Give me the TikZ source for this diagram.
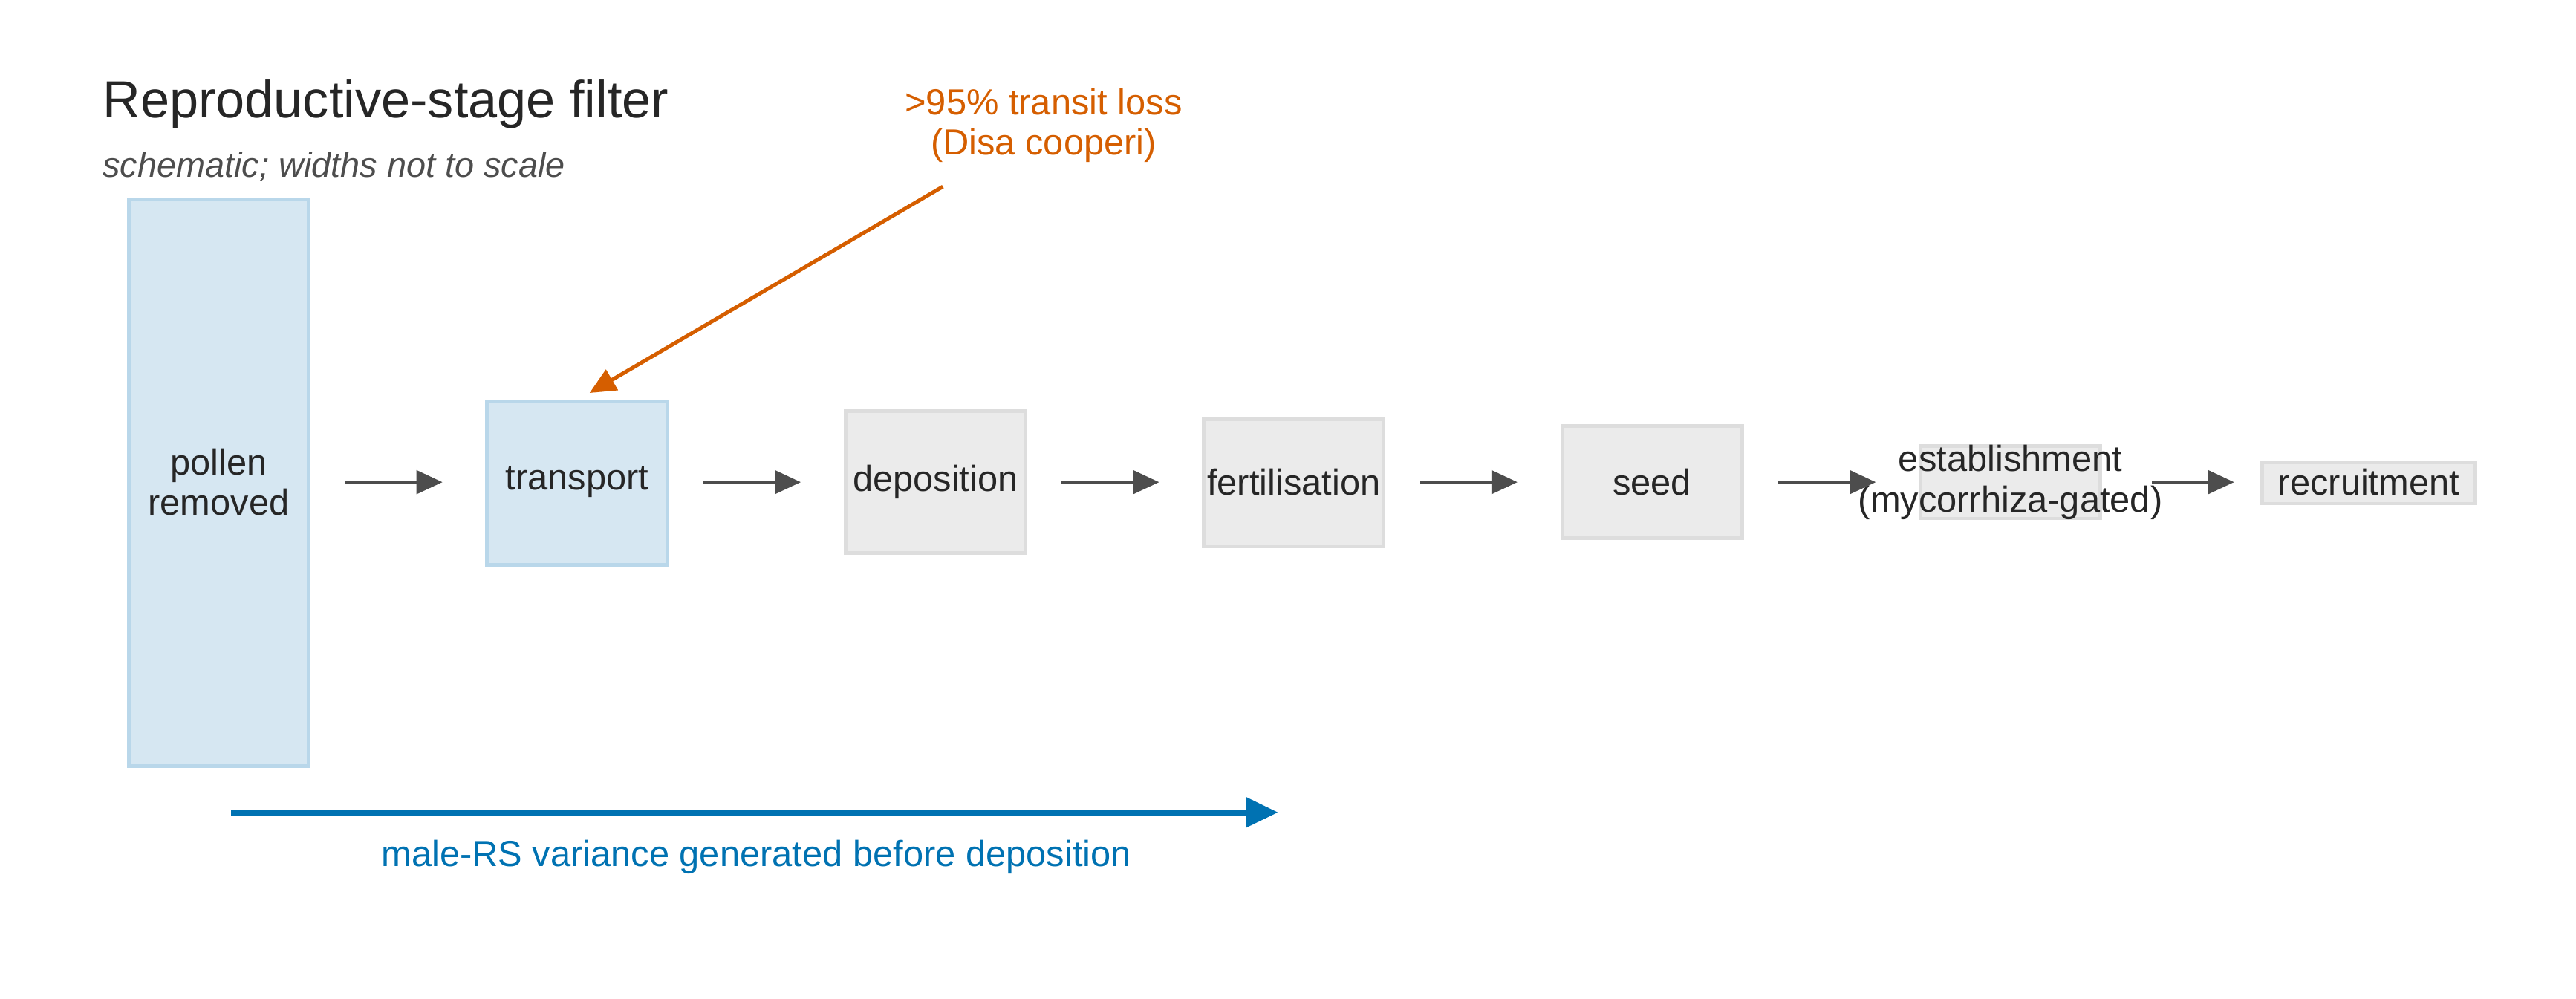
\documentclass[tikz,border=0pt]{standalone}
\usepackage{fontspec}
\setmainfont{Liberation Sans}
\usetikzlibrary{arrows.meta}
\definecolor{bfill}{HTML}{D6E7F2}
\definecolor{bdraw}{HTML}{B9D7EA}
\definecolor{gfill}{HTML}{EBEBEB}
\definecolor{gdraw}{HTML}{DDDDDD}
\definecolor{dark}{HTML}{4D4D4D}
\definecolor{orng}{HTML}{D55E00}
\definecolor{blu}{HTML}{0072B2}
\begin{document}
\begin{tikzpicture}[x=0.02cm,y=-0.02cm,
  stage/.style={draw=gdraw,fill=gfill,line width=1.2pt,inner sep=0pt},
  bstage/.style={draw=bdraw,fill=bfill,line width=1.2pt,inner sep=0pt},
  lbl/.style={font=\fontsize{12.5}{14}\selectfont,text=black!85,align=center},
  flow/.style={draw=dark,line width=1.3pt,-{Triangle[length=9pt,width=8pt]}}]
\useasboundingbox (0,0) rectangle (1560,605);
\node[anchor=west,font=\fontsize{18}{20}\selectfont,text=black!85] (title) at (56,63) {Reproductive-stage filter};
\node[anchor=west,font=\fontsize{12}{14}\selectfont\itshape,text=dark] (sub) at (56,101) {schematic; widths not to scale};
\path[bstage] (78,121) rectangle (187,464);
\node[lbl] (pollen) at (132.5,292) {pollen\\removed};
\path[bstage] (295,243) rectangle (404,342);
\node[lbl] (transport) at (349.5,292) {transport};
\path[stage] (512,249) rectangle (621,335);
\node[lbl] (deposition) at (566.5,292) {deposition};
\path[stage] (729,254) rectangle (838,331);
\node[lbl] (fert) at (783.5,292) {fertilisation};
\path[stage] (946,258) rectangle (1055,326);
\node[lbl] (seed) at (1000.5,292) {seed};
\path[stage] (1163,270) rectangle (1272,314);
\node[lbl,inner sep=0pt] (estab) at (1217.5,292) {establishment\\(mycorrhiza-gated)};
\path[stage] (1370,280) rectangle (1499,305);
\node[lbl] (recruit) at (1434.5,292) {recruitment};
\coordinate (a1) at (209,292); \coordinate (b1) at (268,292);
\coordinate (a2) at (426,292); \coordinate (b2) at (485,292);
\coordinate (a3) at (643,292); \coordinate (b3) at (702,292);
\coordinate (a4) at (860,292); \coordinate (b4) at (919,292);
\coordinate (a5) at (1077,292); \coordinate (b5) at (1136,292);
\coordinate (a6) at (1303,292); \coordinate (b6) at (1353,292);
\foreach \i in {1,...,6} \draw[flow] (a\i) -- (b\i);
\node[lbl,text=orng] (note) at (632,76) {>95\% transit loss\\(Disa cooperi)};
\coordinate (ns) at (571,113); \coordinate (ne) at (357,238);
\draw[orng,line width=1.3pt,-{Triangle[length=9pt,width=8pt]}] (ns) -- (ne);
\coordinate (bs) at (140,492); \coordinate (be) at (774,492);
\draw[blu,line width=2pt,-{Triangle[length=11pt,width=10pt]}] (bs) -- (be);
\node[lbl,text=blu] (var) at (458,519) {male-RS variance generated before deposition};
\end{tikzpicture}
\end{document}
